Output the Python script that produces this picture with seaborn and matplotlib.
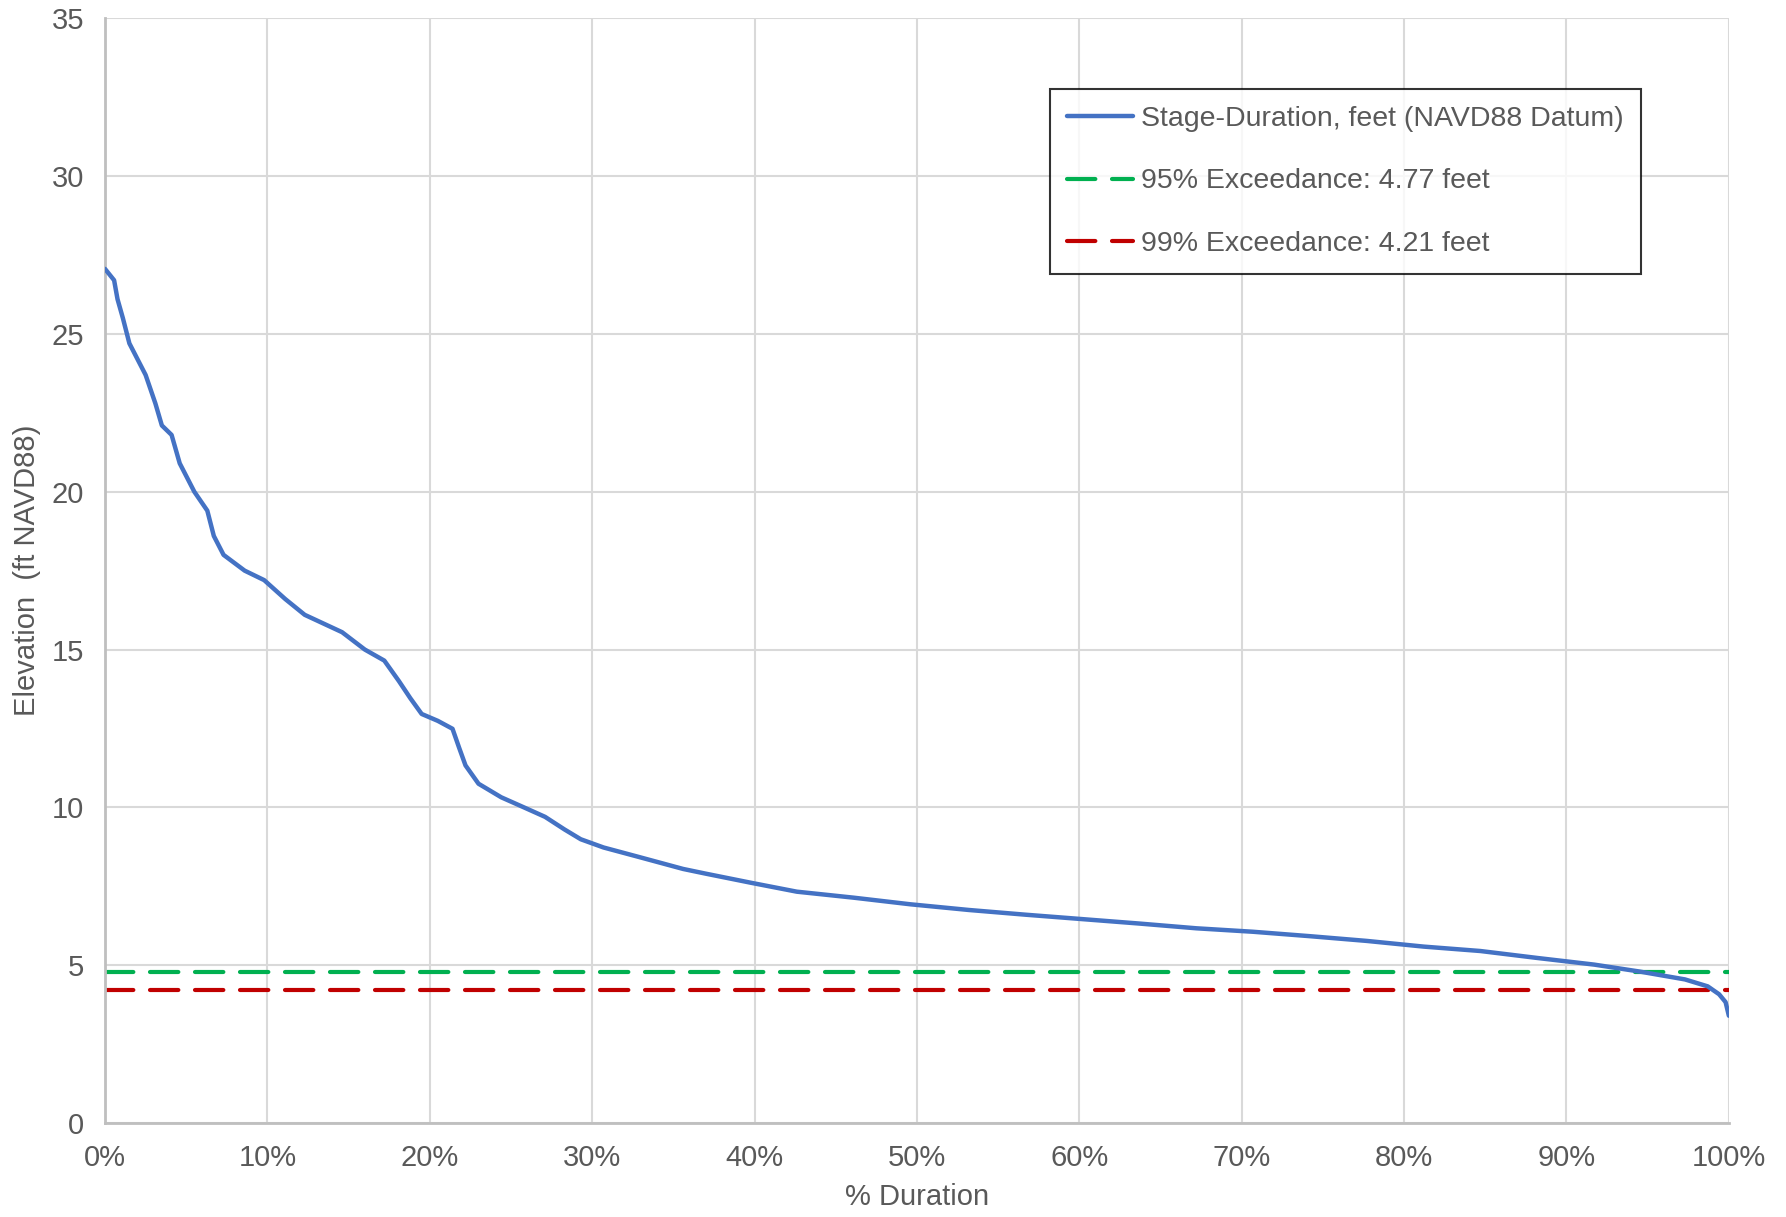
import numpy as np
import pandas as pd
import matplotlib
matplotlib.use('Agg')
import matplotlib.pyplot as plt
import seaborn as sns
from matplotlib.ticker import FuncFormatter, MultipleLocator

# Stage-duration curve (% duration, elevation ft)
duration_pct = [0.0, 0.56, 0.77, 1.1, 1.5, 2.0, 2.5, 3.1, 3.5, 4.1, 4.6, 5.5, 6.3, 6.7,
                7.3, 8.6, 9.8, 11.1, 12.3, 14.6, 16.0, 17.2, 18.1, 18.8, 19.5, 20.5,
                21.4, 21.8, 22.2, 23.0, 24.4, 25.8, 27.1, 28.3, 29.3, 30.7, 32.8, 35.6,
                37.0, 39.8, 42.6, 46.1, 49.6, 53.2, 56.7, 60.2, 63.7, 67.2, 70.7, 74.2,
                77.7, 81.2, 84.7, 88.2, 91.7, 94.5, 97.3, 98.7, 99.4, 99.8, 100.0]
elevation_ft = [27.06, 26.7, 26.1, 25.5, 24.7, 24.2, 23.7, 22.8, 22.1, 21.8, 20.9, 20.0,
                19.4, 18.6, 18.0, 17.5, 17.2, 16.6, 16.1, 15.55, 15.0, 14.65, 14.0, 13.46,
                12.96, 12.74, 12.49, 11.9, 11.33, 10.75, 10.32, 10.0, 9.7, 9.3, 8.99, 8.73,
                8.44, 8.05, 7.9, 7.61, 7.33, 7.14, 6.93, 6.75, 6.6, 6.46, 6.32, 6.17, 6.06,
                5.92, 5.77, 5.59, 5.45, 5.23, 5.02, 4.8, 4.55, 4.33, 4.08, 3.83, 3.4]

exceed_95 = 4.77
exceed_99 = 4.21

df = pd.DataFrame({'Duration': np.array(duration_pct) / 100.0, 'Elevation': elevation_ft})

sns.set_theme(style='white')
plt.rcParams['font.family'] = ['Liberation Sans', 'DejaVu Sans']
text_color = '#595959'

fig, ax = plt.subplots(figsize=(17.86, 12.17), dpi=100)
fig.subplots_adjust(left=0.0588, right=0.968, top=0.985, bottom=0.0772)

sns.lineplot(data=df, x='Duration', y='Elevation', ax=ax, color='#4472C4', linewidth=3.2,
             label='Stage-Duration, feet (NAVD88 Datum)', zorder=3)
ax.plot([0, 1], [exceed_95, exceed_95], color='#00B050', linewidth=3, dashes=(6.8, 4.0),
        dash_capstyle='round', label='95% Exceedance: 4.77 feet', zorder=2)
ax.plot([0, 1], [exceed_99, exceed_99], color='#C00000', linewidth=3, dashes=(6.8, 4.0),
        dash_capstyle='round', label='99% Exceedance: 4.21 feet', zorder=2)

ax.set_xlim(0, 1)
ax.set_ylim(0, 35)
ax.xaxis.set_major_locator(MultipleLocator(0.1))
ax.yaxis.set_major_locator(MultipleLocator(5))
ax.xaxis.set_major_formatter(FuncFormatter(lambda v, p: f'{v * 100:.0f}%'))
ax.grid(True, color='#D9D9D9', linewidth=1.5)
ax.set_axisbelow(True)

for side in ['top', 'right']:
    ax.spines[side].set_visible(False)
for side in ['left', 'bottom']:
    ax.spines[side].set_color('#BFBFBF')
    ax.spines[side].set_linewidth(2)

ax.tick_params(axis='x', length=0, labelsize=21, labelcolor=text_color, pad=15)
ax.tick_params(axis='y', length=0, labelsize=21, labelcolor=text_color, pad=15)
ax.set_xlabel('% Duration', fontsize=21, color=text_color, labelpad=8)
ax.set_ylabel('Elevation  (ft NAVD88)', fontsize=21, color=text_color, labelpad=8)

leg = ax.legend(loc='upper right', bbox_to_anchor=(0.946, 0.936), fontsize=20.5,
                frameon=True, fancybox=False, borderpad=0.6, labelspacing=1.28,
                handlelength=2.3, handletextpad=0.3, borderaxespad=0)
leg.get_frame().set_edgecolor('black')
leg.get_frame().set_linewidth(1.5)
for t in leg.get_texts():
    t.set_color(text_color)

plt.savefig('out.png', dpi=100)
